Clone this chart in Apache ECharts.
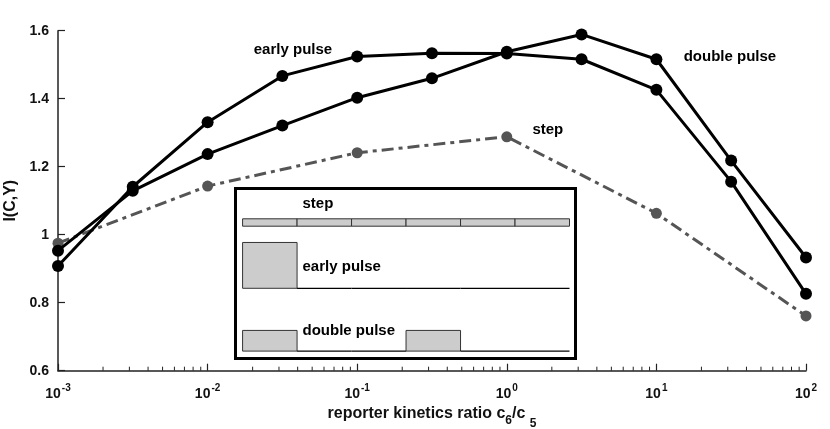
<!DOCTYPE html>
<html>
<head>
<meta charset="utf-8">
<script src="https://cdn.jsdelivr.net/npm/echarts@6/dist/echarts.min.js"></script>
<style>
html,body{margin:0;padding:0;background:#fff;}
#chart{width:830px;height:429px;}
</style>
</head>
<body>
<div id="chart"></div>
<script>
// ---- data ----
const ratio = [0.001, 0.00316, 0.01, 0.0316, 0.1, 0.316, 1, 3.16, 10, 31.6, 100];
const earlyPulse = [0.908, 1.141, 1.331, 1.467, 1.524, 1.534, 1.533, 1.516, 1.426, 1.156, 0.826];
const doublePulse = [0.953, 1.129, 1.237, 1.321, 1.403, 1.460, 1.538, 1.589, 1.516, 1.218, 0.933];
const stepRatio = [0.001, 0.01, 0.1, 1, 10, 100];
const step = [0.975, 1.143, 1.241, 1.288, 1.063, 0.761];

const annotationText = ['early pulse', 'double pulse', 'step'];
const annotationX = [0.0372, 31.0, 1.88];
const annotationY = [1.543, 1.523, 1.308];

// log-axis minor ticks: multipliers within each decade
const decades = [0.001, 0.01, 0.1, 1, 10];
const minorMult = [2, 3, 4, 5, 6, 7, 8, 9];

// inset: input profiles over 6 time units
const insetStep = [1, 1, 1, 1, 1, 1];
const insetEarly = [6.2, 0, 0, 0, 0, 0];
const insetDouble = [2.8, 0, 0, 2.8, 0, 0];
const insetLabels = ['step', 'early pulse', 'double pulse'];

// ---- build ----
const FONT = '"Liberation Sans", Arial, Helvetica, sans-serif';
const TXT = '#111';
const pairs = (xs, ys) => xs.map((x, i) => [x, ys[i]]);

const minorTicks = [];
decades.forEach(d => minorMult.forEach(m => minorTicks.push([d * m, 0.6])));

const rowBase = [17.9, 9.5, 1.0];
const labelY = [20.9, 12.4, 3.7];
const profiles = [insetStep, insetEarly, insetDouble];
const insetData = [];
profiles.forEach((p, r) => p.forEach((a, t) => insetData.push([t, a, rowBase[r]])));
const insetTextData = insetLabels.map((s, r) => [1.1, labelY[r], s]);

const chart = echarts.init(document.getElementById('chart'), null, {renderer: 'canvas'});
chart.setOption({
  backgroundColor: '#fff',
  animation: false,
  grid: [
    {left: 58, right: 24, top: 30.7, bottom: 58.3, containLabel: false, outerBoundsMode: 'none'},
    {left: 235.5, top: 188.5, width: 340, height: 170, show: true, borderColor: '#000', borderWidth: 3,
     backgroundColor: '#fff', containLabel: false, outerBoundsMode: 'none', z: 5}
  ],
  xAxis: [
    {
      type: 'log', logBase: 10, min: 0.001, max: 100, gridIndex: 0,
      axisLine: {lineStyle: {color: '#222', width: 1.5}},
      axisTick: {inside: true, length: 7, lineStyle: {color: '#222', width: 1.2}},
      splitLine: {show: false},
      axisLabel: {
        margin: 13,
        formatter: v => '{b|10}{sup|' + Math.round(Math.log10(v)) + '}',
        rich: {
          b: {fontSize: 14, fontWeight: 'bold', fontFamily: FONT, color: TXT},
          sup: {fontSize: 10, fontWeight: 'bold', fontFamily: FONT, color: TXT, padding: [0, 0, 10, 1]}
        }
      },
      name: 'reporter kinetics ratio c{s6|6}/c {s5|5}',
      nameLocation: 'middle', nameGap: 17,
      nameTextStyle: {
        fontSize: 16, fontWeight: 'bold', fontFamily: FONT, color: TXT,
        rich: {
          s6: {fontSize: 12, fontWeight: 'bold', fontFamily: FONT, color: TXT, padding: [15, 0, 0, 0]},
          s5: {fontSize: 12, fontWeight: 'bold', fontFamily: FONT, color: TXT, padding: [20, 0, 0, 0]}
        }
      }
    },
    {type: 'value', gridIndex: 1, min: -0.13, max: 6.11, show: false}
  ],
  yAxis: [
    {
      type: 'value', min: 0.6, max: 1.6, interval: 0.2, gridIndex: 0,
      axisLine: {show: true, lineStyle: {color: '#222', width: 1.5}},
      axisTick: {show: true, inside: true, length: 7, lineStyle: {color: '#222', width: 1.2}},
      splitLine: {show: false},
      axisLabel: {margin: 9, fontSize: 14, fontWeight: 'bold', fontFamily: FONT, color: TXT},
      name: 'I(C,Y)', nameLocation: 'middle', nameGap: 29,
      nameTextStyle: {fontSize: 16, fontWeight: 'bold', fontFamily: FONT, color: TXT}
    },
    {type: 'value', gridIndex: 1, min: 0, max: 23, show: false}
  ],
  series: [
    {
      type: 'custom', silent: true, z: 1, clip: false,
      data: minorTicks,
      renderItem: function (params, api) {
        const p = api.coord([api.value(0), api.value(1)]);
        return {type: 'line', shape: {x1: p[0], y1: p[1], x2: p[0], y2: p[1] - 4},
                style: {stroke: '#222', lineWidth: 1}};
      }
    },
    {
      name: 'step', type: 'line', data: pairs(stepRatio, step),
      symbol: 'circle', symbolSize: 11,
      itemStyle: {color: '#555'},
      lineStyle: {color: '#555', width: 3, type: [12, 5, 4, 5]}, z: 2
    },
    {
      name: 'early pulse', type: 'line', data: pairs(ratio, earlyPulse),
      symbol: 'circle', symbolSize: 12, itemStyle: {color: '#000'},
      lineStyle: {color: '#000', width: 3}, z: 3
    },
    {
      name: 'double pulse', type: 'line', data: pairs(ratio, doublePulse),
      symbol: 'circle', symbolSize: 12, itemStyle: {color: '#000'},
      lineStyle: {color: '#000', width: 3}, z: 3
    },
    {
      type: 'scatter', symbolSize: 0, silent: true, itemStyle: {opacity: 1},
      data: annotationText.map((t, i) => ({name: t, value: [annotationX[i], annotationY[i]]})),
      label: {show: true, position: 'inside', formatter: '{b}', fontSize: 15, fontWeight: 'bold', fontFamily: FONT, color: '#000', opacity: 1},
      z: 4
    },
    {
      type: 'custom', xAxisIndex: 1, yAxisIndex: 1, z: 10, silent: true,
      data: insetData,
      renderItem: function (params, api) {
        const t = api.value(0), a = api.value(1), b = api.value(2);
        const p0 = api.coord([t, b]);
        const p1 = api.coord([t + 1, b + a]);
        if (a > 0) {
          return {
            type: 'rect',
            shape: {x: p0[0], y: p1[1], width: p1[0] - p0[0], height: p0[1] - p1[1]},
            style: {fill: '#cccccc', stroke: '#333', lineWidth: 1}
          };
        }
        return {
          type: 'line',
          shape: {x1: p0[0], y1: p0[1], x2: p1[0], y2: p0[1]},
          style: {stroke: '#000', lineWidth: 1.2}
        };
      }
    },
    {
      type: 'custom', xAxisIndex: 1, yAxisIndex: 1, z: 11, silent: true,
      data: insetTextData,
      renderItem: function (params, api) {
        const p = api.coord([api.value(0), api.value(1)]);
        return {
          type: 'text', x: p[0], y: p[1],
          style: {text: insetTextData[params.dataIndex][2], fill: '#000',
                  font: 'bold 15px ' + FONT, textAlign: 'left', textVerticalAlign: 'middle'}
        };
      }
    }
  ]
});
</script>
</body>
</html>
